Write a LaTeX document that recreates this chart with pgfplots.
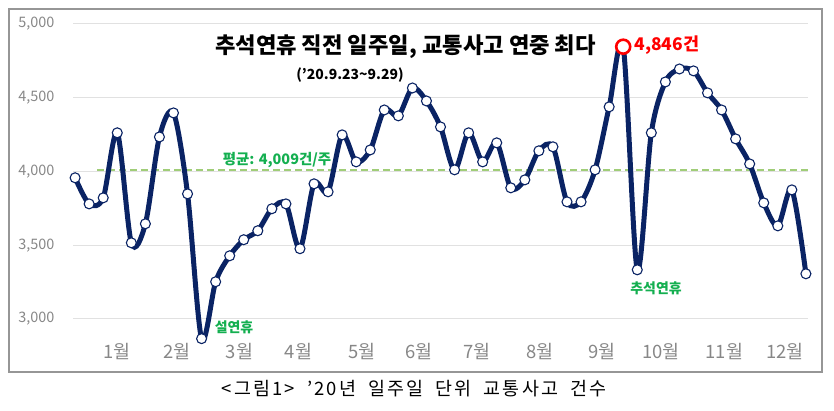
\documentclass[border=0pt]{standalone}
\usepackage{fontspec}
\setmainfont{Noto Sans CJK KR}
\newfontfamily\capfont[LetterSpace=12]{Noto Sans CJK KR}
\usepackage{pgfplots}
\pgfplotsset{compat=1.18}
\definecolor{navy}{RGB}{10,35,100}
\definecolor{avggreen}{RGB}{160,205,120}
\definecolor{txtgreen}{RGB}{20,175,80}
\definecolor{ticktxt}{RGB}{135,135,135}
\definecolor{framegray}{RGB}{150,150,150}
\pgfplotstableread{
w v
0 3957
1 3780
2 3821
3 4262
4 3516
5 3645
6 4234
7 4397
8 3848
9 2866
10 3252
11 3428
12 3537
13 3598
14 3747
15 3780
16 3476
17 3916
18 3862
19 4248
20 4065
21 4146
22 4417
23 4377
24 4566
25 4478
26 4302
27 4011
28 4262
29 4065
30 4194
31 3889
32 3943
33 4140
34 4167
35 3794
36 3794
37 4011
38 4438
39 4846
40 3333
41 4262
42 4607
43 4695
44 4682
45 4533
46 4417
47 4221
48 4051
49 3787
50 3631
51 3875
52 3306
}\weekly
\begin{document}
\begin{tikzpicture}[x=1bp,y=1bp]
\path (0,0) rectangle (834,410);
\draw[framegray, line width=1.3bp] (9,38) rectangle (822,401);
\begin{axis}[
  at={(73bp,69bp)}, anchor=south west,
  scale only axis, width=735bp, height=317bp,
  xmin=-0.15, xmax=52.15, ymin=2850, ymax=5000,
  axis line style={draw=none},
  major tick length=0pt,
  ytick={3000,3500,4000,4500,5000},
  xtick={2.99,7.25,11.7,15.9,20.4,24.45,28.6,33.1,37.5,41.7,46.2,50.5},
  xticklabels={1월,2월,3월,4월,5월,6월,7월,8월,9월,10월,11월,12월},
  ymajorgrids,
  grid style={line width=1bp, color={rgb,255:red,225;green,225;blue,225}},
  /pgf/number format/assume math mode=true,
  yticklabel style={font=\fontsize{14.5}{15}\selectfont, text=ticktxt, xshift=-15bp},
  xticklabel style={font=\fontsize{18.5}{19}\selectfont, text=ticktxt, yshift=1bp},
  clip=false,
]
\addplot[dash pattern=on 7bp off 4bp, avggreen, line width=1.6bp] coordinates {(1.56,4009) (52.43,4009)};
\addplot[navy, line width=5bp, smooth, tension=0.5, mark=*, mark size=5bp,
  mark options={fill=white, draw=navy, line width=1.1bp}] table[x=w,y=v] {\weekly};
\addplot[only marks, mark=*, mark size=7bp, mark options={fill=white, draw=red, line width=2.6bp}] coordinates {(39,4846)};
\end{axis}
\node[font=\fontsize{22.3}{23}\selectfont\bfseries] at (405.5,363) {추석연휴 직전 일주일, 교통사고 연중 최다};
\node[font=\fontsize{14}{16}\selectfont\bfseries] at (350,335) {(’20.9.23\textasciitilde 9.29)};
\node[font=\fontsize{17.5}{18}\selectfont\bfseries, text=red, anchor=west] at (631,365) {4,846건};
\node[font=\fontsize{14.5}{16}\selectfont\bfseries, text=txtgreen] at (277,250) {평균: 4,009건/주};
\node[font=\fontsize{14}{15}\selectfont\bfseries, text=txtgreen] at (234,83) {설연휴};
\node[font=\fontsize{14}{15}\selectfont\bfseries, text=txtgreen] at (656,122) {추석연휴};
\node[font=\capfont\fontsize{18.5}{19}\selectfont] at (414,21) {<그림1>\hspace{12bp}’20년\hspace{12bp}일주일\hspace{12bp}단위\hspace{12bp}교통사고\hspace{12bp}건수};
\end{tikzpicture}
\end{document}
